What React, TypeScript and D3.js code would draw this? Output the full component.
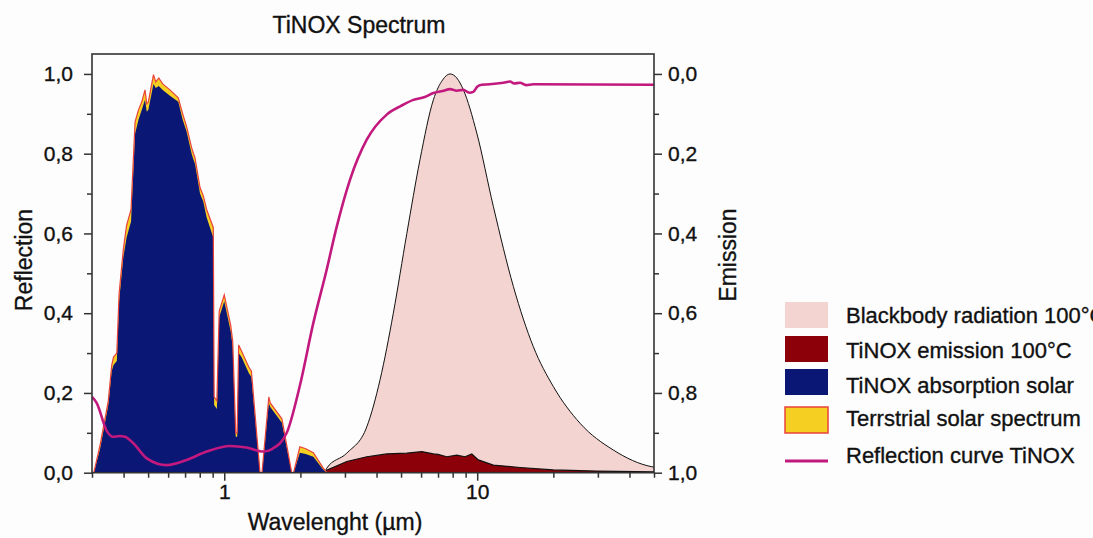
import React, { useEffect, useRef } from "react";
import * as d3 from "d3";

// terrestrial solar spectrum + TiNOX absorbed part (normalized), wavelength in µm
const solarWavelength = [
  0.3, 0.305, 0.323, 0.348, 0.359, 0.365, 0.376, 0.384, 0.399, 0.411, 0.428, 0.444,
  0.458, 0.472, 0.486, 0.494, 0.501, 0.525, 0.536, 0.551, 0.571, 0.61, 0.658, 0.685,
  0.71, 0.743, 0.756, 0.766, 0.802, 0.826, 0.852, 0.905, 0.912, 0.935, 0.955, 1.0,
  1.06, 1.08, 1.11, 1.125, 1.14, 1.17, 1.25, 1.28, 1.385, 1.41, 1.5, 1.52, 1.69,
  1.848, 1.88, 1.99, 2.1, 2.25, 2.46, 2.55,
];
const solarSpectrum = [
  0.0, 0.0, 0.07, 0.18, 0.27, 0.29, 0.3, 0.45, 0.56, 0.62, 0.66, 0.88,
  0.91, 0.93, 0.96, 0.925, 0.93, 0.998, 0.98, 0.99, 0.975, 0.96, 0.94, 0.9,
  0.868, 0.815, 0.8, 0.79, 0.715, 0.695, 0.66, 0.615, 0.19, 0.18, 0.405, 0.446,
  0.37, 0.33, 0.1, 0.1, 0.32, 0.305, 0.265, 0.255, 0.0, 0.0, 0.19, 0.175, 0.135,
  0.0, 0.0, 0.065, 0.06, 0.05, 0.012, 0.0,
];
const absorptionSolar = [
  0.0, 0.0, 0.06, 0.17, 0.255, 0.27, 0.28, 0.43, 0.54, 0.59, 0.63, 0.85,
  0.885, 0.91, 0.935, 0.905, 0.91, 0.975, 0.965, 0.97, 0.96, 0.945, 0.93, 0.885,
  0.855, 0.8, 0.785, 0.775, 0.7, 0.68, 0.64, 0.59, 0.17, 0.16, 0.39, 0.43,
  0.355, 0.315, 0.09, 0.09, 0.3, 0.29, 0.25, 0.24, 0.0, 0.0, 0.175, 0.165, 0.125,
  0.0, 0.0, 0.05, 0.047, 0.04, 0.008, 0.0,
];

// reflection curve TiNOX
const reflWavelength = [
  0.3, 0.313, 0.343, 0.364, 0.385, 0.405, 0.437, 0.494, 0.592, 0.71, 0.852, 1.054,
  1.227, 1.427, 1.55, 1.766, 1.993, 2.249, 2.54, 2.784, 3.143, 3.658, 4.388, 5.0,
  5.592, 6.2, 6.709, 7.3, 7.81, 8.3, 8.815, 9.3, 9.654, 10.0, 10.42, 11.2, 11.95,
  12.7, 13.49, 14.0, 14.77, 15.6, 16.67, 50,
];
const reflection = [
  0.19, 0.175, 0.105, 0.09, 0.092, 0.09, 0.074, 0.036, 0.019, 0.032, 0.053, 0.067,
  0.063, 0.053, 0.06, 0.1, 0.22, 0.375, 0.509, 0.617, 0.735, 0.835, 0.898, 0.92,
  0.935, 0.942, 0.952, 0.957, 0.962, 0.958, 0.96, 0.953, 0.955, 0.968, 0.973, 0.974, 0.976,
  0.978, 0.981, 0.976, 0.978, 0.972, 0.974, 0.973,
];

// blackbody radiation 100°C (normalized)
const bbWavelength = [
  2.5, 2.54, 3.05, 3.66, 4.13, 4.66, 5.27, 5.94, 6.71, 7.3, 7.81, 8.3, 8.82, 9.96,
  11.58, 13.9, 16.67, 20.0, 25.5, 34.5, 49.0, 50,
];
const blackbody = [
  0, 0.011, 0.049, 0.115, 0.233, 0.4, 0.6, 0.785, 0.935, 0.985, 1.0, 0.99, 0.96, 0.852,
  0.668, 0.467, 0.316, 0.216, 0.124, 0.057, 0.015, 0.014,
];

// TiNOX emission 100°C
const emWavelength = [
  2.5, 2.54, 3.05, 3.66, 4.39, 5.27, 6.04, 6.71, 7.0, 7.58, 8.3, 8.95, 9.52, 10.1,
  11.58, 14.77, 20.0, 29.7, 50,
];
const emission = [
  0, 0.006, 0.028, 0.04, 0.047, 0.049, 0.053, 0.047, 0.046, 0.04, 0.044, 0.04, 0.047, 0.032,
  0.019, 0.013, 0.007, 0.004, 0.002,
];

const xMajorTicks = [1, 10];
const yTicks = [0, 0.2, 0.4, 0.6, 0.8, 1.0];
const yMinorTicks = [0.1, 0.3, 0.5, 0.7, 0.9];

const legendLabels = [
  "Blackbody radiation 100°C",
  "TiNOX emission 100°C",
  "TiNOX absorption solar",
  "Terrstrial solar spectrum",
  "Reflection curve TiNOX",
];

const FONT = "'Liberation Sans', Arial, Helvetica, sans-serif";
const comma = (d) => d3.format(".1f")(d).replace(".", ",");

// slightly heavier text, like the blurred original
const heavy = (t) => t.attr("fill", "#111").attr("stroke", "#111").attr("stroke-width", 0.35);

const App = () => {
  const container = useRef(null);

  useEffect(() => {
    const el = container.current;
    el.innerHTML = "";

    const W = 1093, H = 538;
    const left = 92, right = 654, top = 54, bottom = 472.7;

    const svg = d3.select(el).append("svg")
      .attr("width", W)
      .attr("height", H)
      .style("display", "block")
      .style("font-family", FONT);

    svg.append("rect").attr("width", W).attr("height", H).attr("fill", "#fdfdfd");

    const x = d3.scaleLog().domain([0.3, 50]).range([left, right]);
    const y = d3.scaleLinear().domain([0, 1.05]).range([bottom, top]);
    const yR = d3.scaleLinear().domain([0, 1]).range([y(1), y(0)]);

    svg.append("clipPath").attr("id", "plotclip")
      .append("rect")
      .attr("x", left).attr("y", top)
      .attr("width", right - left).attr("height", bottom - top);

    const plot = svg.append("g").attr("clip-path", "url(#plotclip)");

    const area = (xs, ys, curve) => d3.area()
      .x((d, i) => x(xs[i]))
      .y0(y(0))
      .y1((d) => y(d))
      .curve(curve)(ys);
    const line = (xs, ys, curve) => d3.line()
      .x((d, i) => x(xs[i]))
      .y((d) => y(d))
      .curve(curve)(ys);

    // blackbody
    plot.append("path")
      .attr("d", area(bbWavelength, blackbody, d3.curveMonotoneX))
      .attr("fill", "#f3d4d1");
    plot.append("path")
      .attr("d", line(bbWavelength, blackbody, d3.curveMonotoneX))
      .attr("fill", "none").attr("stroke", "#111").attr("stroke-width", 1);

    // TiNOX emission
    plot.append("path")
      .attr("d", area(emWavelength, emission, d3.curveLinear))
      .attr("fill", "#8c0009");
    plot.append("path")
      .attr("d", line(emWavelength, emission, d3.curveLinear))
      .attr("fill", "none").attr("stroke", "#111").attr("stroke-width", 1.2);

    // solar spectrum
    plot.append("path")
      .attr("d", area(solarWavelength, solarSpectrum, d3.curveLinear))
      .attr("fill", "#f6cf23");
    plot.append("path")
      .attr("d", area(solarWavelength, absorptionSolar, d3.curveLinear))
      .attr("fill", "#0b1775");
    plot.append("path")
      .attr("d", line(solarWavelength, solarSpectrum, d3.curveLinear))
      .attr("fill", "none").attr("stroke", "#e8433a").attr("stroke-width", 1.2);

    // reflection curve
    plot.append("path")
      .attr("d", line(reflWavelength, reflection, d3.curveMonotoneX))
      .attr("fill", "none").attr("stroke", "#c2197f").attr("stroke-width", 2.6);

    // frame
    svg.append("rect")
      .attr("x", left).attr("y", top)
      .attr("width", right - left).attr("height", bottom - top)
      .attr("fill", "none").attr("stroke", "#333").attr("stroke-width", 1.6);

    const styleAxis = (g) => {
      g.select(".domain").remove();
      g.selectAll("line").attr("stroke", "#333").attr("stroke-width", 1.5);
      g.selectAll("text").call(heavy).style("font-size", "21px").style("font-family", FONT);
    };

    // x axis
    svg.append("g")
      .attr("transform", `translate(0,${bottom})`)
      .call(d3.axisBottom(x).tickValues(x.ticks().filter((t) => !xMajorTicks.includes(t))).tickSize(5).tickFormat(() => ""))
      .call(styleAxis);
    svg.append("g")
      .attr("transform", `translate(0,${bottom})`)
      .call(d3.axisBottom(x).tickValues(xMajorTicks).tickSize(8).tickPadding(3).tickFormat(d3.format("d")))
      .call(styleAxis);

    // left axis
    svg.append("g")
      .attr("transform", `translate(${left},0)`)
      .call(d3.axisLeft(y).tickValues(yMinorTicks).tickSize(5).tickFormat(() => ""))
      .call(styleAxis);
    svg.append("g")
      .attr("transform", `translate(${left},0)`)
      .call(d3.axisLeft(y).tickValues(yTicks).tickSize(8).tickPadding(11).tickFormat(comma))
      .call(styleAxis);

    // right axis (emission, reversed)
    svg.append("g")
      .attr("transform", `translate(${right},0)`)
      .call(d3.axisRight(yR).tickValues(yMinorTicks).tickSize(5).tickFormat(() => ""))
      .call(styleAxis);
    svg.append("g")
      .attr("transform", `translate(${right},0)`)
      .call(d3.axisRight(yR).tickValues(yTicks).tickSize(8).tickPadding(6).tickFormat(comma))
      .call(styleAxis);

    // titles
    svg.append("text")
      .attr("x", 359).attr("y", 33)
      .attr("text-anchor", "middle")
      .style("font-size", "23px").call(heavy)
      .text("TiNOX Spectrum");

    svg.append("text")
      .attr("x", 335).attr("y", 530)
      .attr("text-anchor", "middle")
      .style("font-size", "23px").call(heavy)
      .text("Wavelenght (µm)");

    svg.append("text")
      .attr("transform", "translate(32,260) rotate(-90)")
      .attr("text-anchor", "middle")
      .style("font-size", "23px").call(heavy)
      .text("Reflection");

    svg.append("text")
      .attr("transform", "translate(736,255) rotate(-90)")
      .attr("text-anchor", "middle")
      .style("font-size", "23px").call(heavy)
      .text("Emission");

    // legend
    const legend = svg.append("g");
    const swatchFill = ["#f3d4d1", "#8c0009", "#0b1775", "#f6cf23"];
    const swatchStroke = ["none", "none", "none", "#e8433a"];
    const swatchY = [302, 336, 369, 407];
    const textY = [315, 350, 385, 418, 455];

    swatchFill.forEach((c, i) => {
      legend.append("rect")
        .attr("x", 785).attr("y", swatchY[i])
        .attr("width", 43).attr("height", 26)
        .attr("fill", c)
        .attr("stroke", swatchStroke[i])
        .attr("stroke-width", 1.5);
    });
    legend.append("line")
      .attr("x1", 785).attr("x2", 828)
      .attr("y1", 461).attr("y2", 461)
      .attr("stroke", "#c2197f").attr("stroke-width", 3);

    legendLabels.forEach((t, i) => {
      legend.append("text")
        .attr("x", 846).attr("y", textY[i])
        .attr("dy", "0.35em")
        .style("font-size", "22px").call(heavy)
        .text(t);
    });
  }, []);

  return (
    <div ref={container} style={{ position: "absolute", left: 0, top: 0 }}></div>
  );
};

export default App;
